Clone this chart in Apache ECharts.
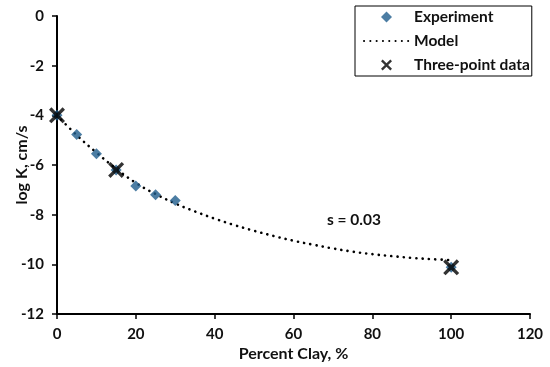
<!DOCTYPE html>
<html><head><meta charset="utf-8">
<script src="https://cdn.jsdelivr.net/npm/echarts@6/dist/echarts.min.js"></script>
<style>html,body{margin:0;padding:0;background:#fff}#c{width:550px;height:367px}</style>
</head><body><div id="c"></div>
<script>
var experimentX = [0, 5, 10, 15, 20, 25, 30, 100];
var experimentY = [-4, -4.77, -5.55, -6.2, -6.85, -7.2, -7.43, -10.12];
var modelX = [0, 5, 10, 15, 20, 25, 30, 35, 40, 45, 50, 55, 60, 65, 70, 75, 80, 85, 90, 95, 100];
var modelY = [-4, -4.8, -5.5, -6.15, -6.72, -7.17, -7.55, -7.87, -8.16, -8.42, -8.65, -8.86, -9.05, -9.21, -9.36, -9.49, -9.59, -9.67, -9.74, -9.79, -9.83];
var threeX = [0, 15, 100];
var threeY = [-4, -6.2, -10.12];
var xTicks = {min: 0, max: 120, interval: 20};
var yTicks = {min: -12, max: 0, interval: 2};
var annotation = 's = 0.03';

function pairs(xs, ys) { return xs.map(function (x, i) { return [x, ys[i]]; }); }

var FONT = 'Lato';
var xPath = 'path://M0,1.5L1.5,0L5,3.5L8.5,0L10,1.5L6.5,5L10,8.5L8.5,10L5,6.5L1.5,10L0,8.5L3.5,5Z';
var diamondPath = 'path://M5,0L10,5L5,10L0,5Z';
var chart = echarts.init(document.getElementById('c'), null, {renderer: 'canvas'});
var axisCommon = {
  axisLine: {show: true, onZero: false, lineStyle: {color: '#000', width: 2}},
  axisTick: {show: true, inside: false, length: 5, lineStyle: {color: '#000', width: 1.5}},
  splitLine: {show: false},
  axisLabel: {color: '#111', fontFamily: FONT, fontWeight: 'bold', fontSize: 15},
  nameTextStyle: {color: '#111', fontFamily: FONT, fontWeight: 'bold', fontSize: 16},
  nameLocation: 'middle',
  nameMoveOverlap: false
};
chart.setOption({
  animation: false,
  backgroundColor: '#fff',
  grid: {left: 57, right: 20, top: 16, bottom: 53, containLabel: false, outerBoundsMode: 'none'},
  xAxis: Object.assign({}, axisCommon, {
    type: 'value', min: xTicks.min, max: xTicks.max, interval: xTicks.interval,
    name: 'Percent Clay, %', nameGap: 32,
    axisLabel: Object.assign({}, axisCommon.axisLabel, {margin: 13})
  }),
  yAxis: Object.assign({}, axisCommon, {
    type: 'value', min: yTicks.min, max: yTicks.max, interval: yTicks.interval,
    name: 'log K, cm/s', nameGap: 27,
    axisLabel: Object.assign({}, axisCommon.axisLabel, {margin: 13})
  }),
  legend: {
    orient: 'vertical', left: 355, top: 6,
    padding: [3, 2, 3, 8], itemGap: 8, itemWidth: 45, itemHeight: 11,
    borderColor: '#000', borderWidth: 1,
    textStyle: {color: '#111', fontFamily: FONT, fontWeight: 'bold', fontSize: 15.5, lineHeight: 14},
    data: [
      {name: 'Experiment', icon: diamondPath, itemStyle: {color: '#1f5c8c'}},
      {name: 'Model', itemStyle: {opacity: 0}},
      {name: 'Three-point data', icon: xPath}
    ]
  },
  series: [
    {
      name: 'Model', type: 'line', smooth: 0.4, symbol: 'none', showSymbol: false,
      data: pairs(modelX, modelY),
      lineStyle: {color: '#000', width: 2.6, type: [0.1, 6.2], cap: 'round'},
      itemStyle: {color: '#000'}, z: 2
    },
    {
      name: 'Experiment', type: 'scatter', symbol: 'diamond', symbolSize: 11,
      data: pairs(experimentX, experimentY),
      itemStyle: {color: '#1f5c8c'}, z: 3
    },
    {
      name: 'Three-point data', type: 'scatter', symbol: xPath, symbolSize: 16,
      data: pairs(threeX, threeY),
      itemStyle: {color: '#000'}, z: 4
    }
  ],
  graphic: [{
    type: 'text', left: 327, top: 212,
    style: {text: annotation, fill: '#111', font: 'bold 15.5px ' + FONT}
  }]
});
</script></body></html>
